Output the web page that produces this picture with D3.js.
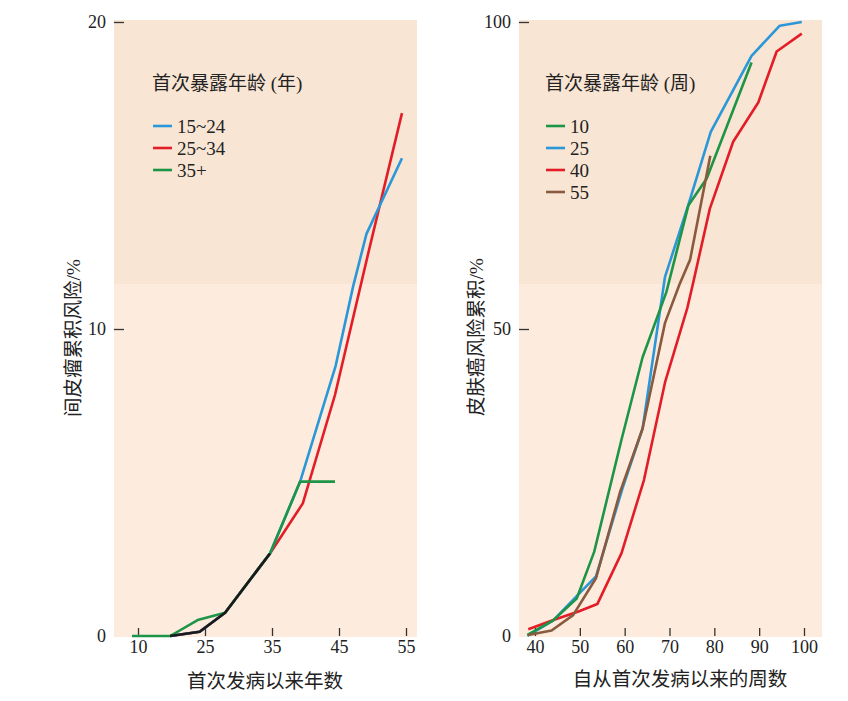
<!DOCTYPE html>
<html>
<head>
<meta charset="utf-8">
<script src="https://cdn.jsdelivr.net/npm/d3@7"></script>
<style>
    body { margin: 0; background: #ffffff; }
    svg { display: block; }
    .tick text { fill: #222; }
</style>
</head>
<body>
<div id="chart"></div>
<script>
// left panel: mesothelioma risk by years since first exposure
const leftTickValues = [15, 25, 35, 45, 55];
const leftTickLabels = ["10", "25", "35", "45", "55"];
const leftYTicks = [10, 20];

const years1524 = [19.8, 24.2, 28, 34.7, 39.2, 44.5, 47.1, 49.1, 54.4];
const risk1524 = [0, 0.14, 0.76, 2.69, 5.03, 8.8, 11.38, 13.1, 15.56];
const years2534 = [19.8, 24.2, 28, 34.7, 39.6, 44.4, 49.4, 54.4];
const risk2534 = [0, 0.14, 0.76, 2.69, 4.32, 7.85, 12.5, 17.03];
const years35 = [14.1, 19.8, 23.9, 28, 34.7, 39.2, 44.4];
const risk35 = [0, 0, 0.52, 0.76, 2.69, 5.03, 5.03];
// part where all three curves lie on top of each other
const yearsShared = [19.8, 24.2, 28, 34.7];
const riskShared = [0, 0.14, 0.76, 2.69];

// right panel: skin cancer risk by weeks
const rightTickValues = [40, 50, 60, 70, 80, 90, 100];
const rightYTicks = [50, 100];

const weeks10 = [38.3, 44, 49.3, 53.2, 59.3, 64.0, 69.3, 74.2, 78.3, 88.3];
const risk10 = [0.2, 2.5, 6.1, 13.7, 32, 45.4, 56, 70.1, 74.5, 93.4];
const weeks25 = [38.3, 44, 49.3, 53.6, 59.5, 64.0, 69.0, 74.2, 79.2, 88.3, 94.6, 99.5];
const risk25 = [0, 2.5, 6.5, 9.7, 24, 33.8, 58.5, 70.2, 82.1, 94.5, 99.4, 100];
const weeks40 = [38.5, 44.1, 49.7, 53.9, 59.3, 64.3, 69, 74.0, 75.3, 79, 84.2, 89.8, 93.9, 99.5];
const risk40 = [1.1, 2.6, 4.0, 5.2, 13.5, 25.4, 41.3, 53.5, 57.6, 69.6, 80.5, 86.9, 95.2, 98.1];
const weeks55 = [38.5, 43.7, 48.5, 53.6, 59, 64, 69, 72.2, 74.6, 79.1];
const risk55 = [0.16, 0.9, 3.4, 9.4, 23.5, 33.8, 51, 57.2, 61.3, 78.2];

const FONT = "'Liberation Serif', 'Noto Sans CJK SC', serif";

const svg = d3.select("#chart").append("svg")
    .attr("width", 848)
    .attr("height", 701);

/**
 * Draw one panel: background, axes, labels, lines and legend.
 */
function drawPanel(p) {
    let g = svg.append("g");

    // background, two shades of peach
    let h = p.bottom - p.top;
    g.append("rect")
        .attr("x", p.left).attr("y", p.top)
        .attr("width", p.right - p.left).attr("height", h)
        .attr("fill", "#fdecdd");
    g.append("rect")
        .attr("x", p.left).attr("y", p.top)
        .attr("width", p.right - p.left).attr("height", h * 0.428)
        .attr("fill", "#f9e5d4");

    let xAxis = g.append("g")
        .attr("transform", "translate(0," + p.y(0) + ")")
        .call(d3.axisBottom(p.x)
            .tickValues(p.xTicks)
            .tickFormat((d, i) => p.xLabels[i])
            .tickSizeInner(-8).tickSizeOuter(0).tickPadding(4));

    let yAxis = g.append("g")
        .attr("transform", "translate(" + p.left + ",0)")
        .call(d3.axisLeft(p.y)
            .tickValues(p.yTicks)
            .tickSizeInner(-10).tickSizeOuter(0).tickPadding(8));
    // zero label without tick mark
    yAxis.append("text")
        .attr("x", -8).attr("y", p.y(0)).attr("dy", "0.32em")
        .attr("text-anchor", "end").attr("fill", "#222")
        .text("0");

    [xAxis, yAxis].forEach(a => {
        a.select(".domain").remove();
        a.selectAll("line").attr("stroke", "#333").attr("stroke-width", 1.3);
        a.selectAll("text").style("font-family", FONT).style("font-size", "18px");
    });

    //labels
    g.append("text")
        .attr("x", p.xLabelPos[0]).attr("y", p.xLabelPos[1])
        .attr("text-anchor", "middle")
        .style("font-family", FONT).style("font-size", "19.5px").attr("fill", "#222")
        .text(p.xLabel);
    g.append("text")
        .attr("transform", "translate(" + p.yLabelPos[0] + "," + p.yLabelPos[1] + ") rotate(-90)")
        .attr("dy", "0.35em")
        .attr("text-anchor", "middle")
        .style("font-family", FONT).style("font-size", "19.5px").attr("fill", "#222")
        .text(p.yLabel);

    let line = d3.line().x(d => p.x(d[0])).y(d => p.y(d[1]));
    p.series.forEach(s => {
        g.append("path")
            .datum(d3.zip(s.xs, s.ys))
            .attr("d", line)
            .attr("fill", "none")
            .attr("stroke", s.color)
            .attr("stroke-width", 2.6)
            .attr("stroke-linejoin", "round");
    });

    // legend
    g.append("text")
        .attr("x", p.legend[0]).attr("y", p.legend[1]).attr("dy", "0.35em")
        .style("font-family", FONT).style("font-size", "19px").attr("fill", "#222")
        .text(p.legendTitle);
    p.legendItems.forEach((it, i) => {
        let y = p.legend[2] + i * 22;
        g.append("line")
            .attr("x1", p.legend[0] + 1).attr("x2", p.legend[0] + 20)
            .attr("y1", y).attr("y2", y)
            .attr("stroke", it.color).attr("stroke-width", 2.6);
        g.append("text")
            .attr("x", p.legend[0] + 25).attr("y", y).attr("dy", "0.35em")
            .style("font-family", FONT).style("font-size", "19px").attr("fill", "#222")
            .text(it.name);
    });
}

const blue = "#2a97d8", red = "#e31d27", green = "#1e9447", brown = "#8a5a3e";

drawPanel({
    left: 114, right: 417, top: 20, bottom: 637,
    x: d3.scaleLinear().domain([15, 55]).range([138, 406]),
    y: d3.scaleLinear().domain([0, 20]).range([636, 22]),
    xTicks: leftTickValues, xLabels: leftTickLabels, yTicks: leftYTicks,
    xLabel: "首次发病以来年数", xLabelPos: [265, 688],
    yLabel: "间皮瘤累积风险/%", yLabelPos: [73, 338],
    series: [
        {xs: years2534, ys: risk2534, color: red},
        {xs: years1524, ys: risk1524, color: blue},
        {xs: years35, ys: risk35, color: green},
        {xs: yearsShared, ys: riskShared, color: "#1a1a1a"}
    ],
    legend: [152, 83.5, 126],
    legendTitle: "首次暴露年龄 (年)",
    legendItems: [
        {name: "15~24", color: blue},
        {name: "25~34", color: red},
        {name: "35+", color: green}
    ]
});

drawPanel({
    left: 519, right: 822, top: 20, bottom: 637,
    x: d3.scaleLinear().domain([40, 100]).range([535, 804]),
    y: d3.scaleLinear().domain([0, 100]).range([636, 22]),
    xTicks: rightTickValues, xLabels: rightTickValues.map(String), yTicks: rightYTicks,
    xLabel: "自从首次发病以来的周数", xLabelPos: [680, 686],
    yLabel: "皮肤癌风险累积/%", yLabelPos: [476, 337],
    series: [
        {xs: weeks25, ys: risk25, color: blue},
        {xs: weeks40, ys: risk40, color: red},
        {xs: weeks10, ys: risk10, color: green},
        {xs: weeks55, ys: risk55, color: brown}
    ],
    legend: [545, 83.5, 126],
    legendTitle: "首次暴露年龄 (周)",
    legendItems: [
        {name: "10", color: green},
        {name: "25", color: blue},
        {name: "40", color: red},
        {name: "55", color: brown}
    ]
});
</script>
</body>
</html>
